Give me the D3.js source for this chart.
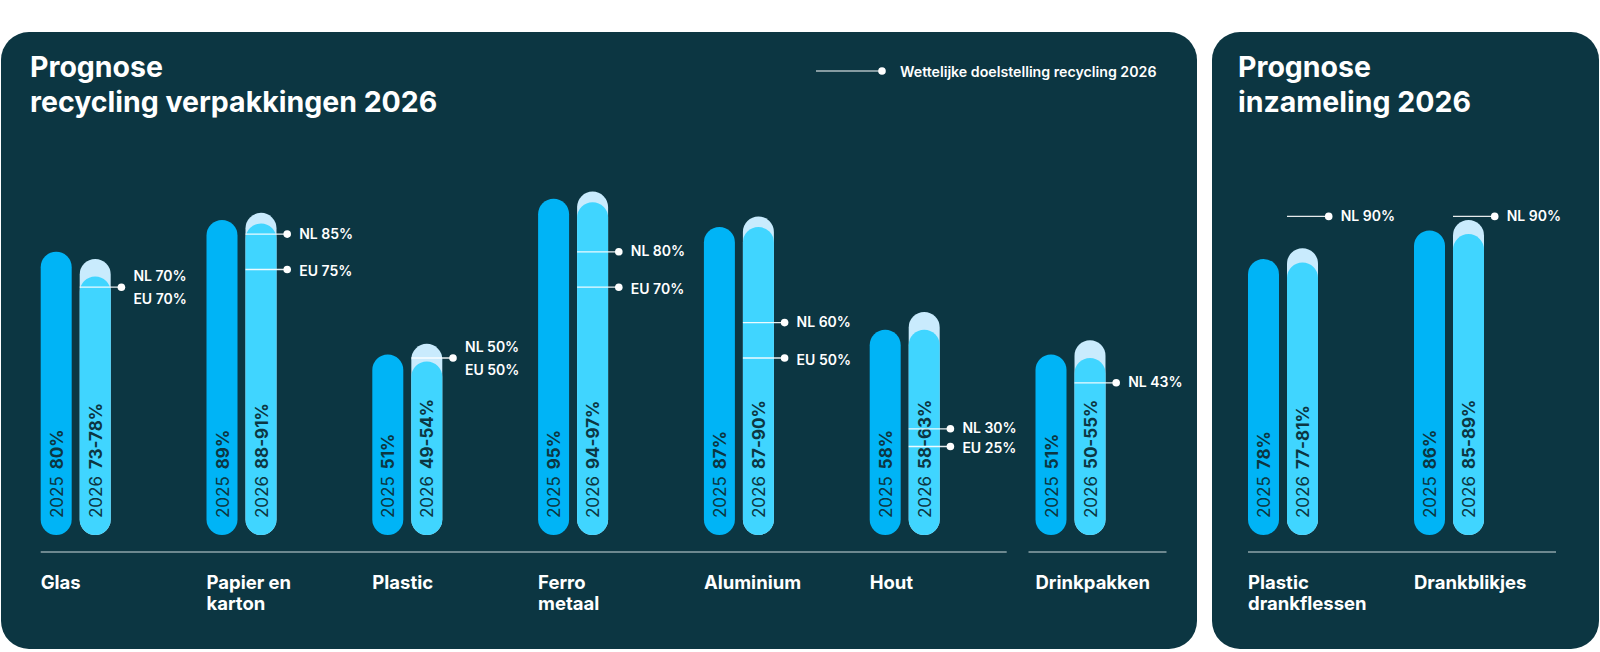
<!DOCTYPE html>
<html>
<head>
<meta charset="utf-8">
<script src="https://cdn.jsdelivr.net/npm/d3@7"></script>
<style>
  html, body { margin: 0; padding: 0; background: #ffffff; }
  svg { display: block; font-family: "Inter", "Noto Sans", sans-serif; }
</style>
</head>
<body>
<div id="chart"></div>
<script>
// recycling verpakkingen
var categories = ["Glas", "Papier en\nkarton", "Plastic", "Ferro\nmetaal", "Aluminium", "Hout", "Drinkpakken"];
var recycling2025 = [80, 89, 51, 95, 87, 58, 51];
var recycling2026Low = [73, 88, 49, 94, 87, 58, 50];
var recycling2026High = [78, 91, 54, 97, 90, 63, 55];
var targetNL = [70, 85, 50, 80, 60, 30, 43];
var targetEU = [70, 75, 50, 70, 50, 25, null];

// inzameling
var collectCategories = ["Plastic\ndrankflessen", "Drankblikjes"];
var collect2025 = [78, 86];
var collect2026Low = [77, 85];
var collect2026High = [81, 89];
var collectNL = [90, 90];

var legendText = "Wettelijke doelstelling recycling 2026";

var W = 1600, H = 652;
var bg = "#0c3642";
var c2025 = "#00b4f6";
var c2026 = "#40d5ff";
var cRange = "#c9ebfd";
var textDark = "#0c3642";

var barW = 31, barGap = 8;
var step = 165.8;

var svg = d3.select("#chart").append("svg")
    .attr("width", W)
    .attr("height", H);

// panels
svg.append("rect")
    .attr("x", 1).attr("y", 32)
    .attr("width", 1196).attr("height", 617)
    .attr("rx", 28)
    .attr("fill", bg);

svg.append("rect")
    .attr("x", 1212).attr("y", 32)
    .attr("width", 387).attr("height", 617)
    .attr("rx", 28)
    .attr("fill", bg);

var y = d3.scaleLinear().domain([0, 100]).range([535, 181]);

var xLeft = d3.scaleBand()
    .domain(categories)
    .range([40.7, 40.7 + step * categories.length])
    .paddingInner(0).paddingOuter(0);

var xRight = d3.scaleBand()
    .domain(collectCategories)
    .range([1248, 1248 + 166 * collectCategories.length])
    .paddingInner(0).paddingOuter(0);

// titles
function title(x, lines) {
    var t = svg.append("text")
        .attr("x", x)
        .attr("y", 77)
        .attr("fill", "#ffffff")
        .attr("font-size", 28.5)
        .attr("font-weight", 700);
    lines.forEach(function (l, i) {
        t.append("tspan")
            .attr("x", x)
            .attr("dy", i == 0 ? 0 : 35)
            .text(l);
    });
}
title(30, ["Prognose", "recycling verpakkingen 2026"]);
title(1238, ["Prognose", "inzameling 2026"]);

// legend
svg.append("line")
    .attr("x1", 816).attr("x2", 882)
    .attr("y1", 71).attr("y2", 71)
    .attr("stroke", "#ffffff").attr("stroke-width", 1.2);
svg.append("circle")
    .attr("cx", 882).attr("cy", 71).attr("r", 3.8)
    .attr("fill", "#ffffff");
svg.append("text")
    .attr("x", 900).attr("y", 71)
    .attr("dominant-baseline", "central")
    .attr("fill", "#ffffff")
    .attr("font-size", 14.2)
    .attr("font-weight", 600)
    .text(legendText);

function pill(g, x, top, color) {
    g.append("rect")
        .attr("x", x)
        .attr("y", top)
        .attr("width", barW)
        .attr("height", y(0) - top)
        .attr("rx", barW / 2)
        .attr("fill", color);
}

function barText(g, x, year, value) {
    var t = g.append("text")
        .attr("transform", "translate(" + (x + barW / 2 + 0.5) + "," + (y(0) - 17) + ") rotate(-90)")
        .attr("dominant-baseline", "central")
        .attr("fill", textDark)
        .attr("font-size", 17);
    t.append("tspan").attr("font-weight", 400).text(year);
    t.append("tspan").attr("font-weight", 700).attr("dx", 7).text(value);
}

function target(g, x, v, labels) {
    var ly = y(v);
    var dotX = x + barW + 10.7;
    g.append("line")
        .attr("x1", x).attr("x2", dotX)
        .attr("y1", ly).attr("y2", ly)
        .attr("stroke", "#ffffff").attr("stroke-width", 1.3)
        .attr("stroke-opacity", 0.9);
    g.append("circle")
        .attr("cx", dotX).attr("cy", ly).attr("r", 3.8)
        .attr("fill", "#ffffff");
    labels.forEach(function (l) {
        g.append("text")
            .attr("x", dotX + 12)
            .attr("y", ly + l.dy)
            .attr("dominant-baseline", "central")
            .attr("fill", "#ffffff")
            .attr("font-size", 14)
            .attr("font-weight", 600)
            .text(l.text);
    });
}

function drawGroup(xScale, cats, v25, lo, hi, nl, eu) {
    cats.forEach(function (c, i) {
        var x0 = xScale(c);
        var x1 = x0 + barW + barGap;
        var g = svg.append("g");

        pill(g, x0, y(v25[i]), c2025);
        pill(g, x1, y(hi[i]), cRange);
        pill(g, x1, y(lo[i]), c2026);

        barText(g, x0, "2025", v25[i] + "%");
        barText(g, x1, "2026", lo[i] + "-" + hi[i] + "%");

        var e = eu ? eu[i] : null;
        if (e != null && e == nl[i]) {
            target(g, x1, nl[i], [{ text: "NL " + nl[i] + "%", dy: -12 }, { text: "EU " + e + "%", dy: 11 }]);
        } else {
            target(g, x1, nl[i], [{ text: "NL " + nl[i] + "%", dy: -1 }]);
            if (e != null) {
                target(g, x1, e, [{ text: "EU " + e + "%", dy: 1 }]);
            }
        }

        // category label
        var t = svg.append("text")
            .attr("x", x0)
            .attr("y", 589)
            .attr("fill", "#ffffff")
            .attr("font-size", 18.5)
            .attr("font-weight", 700);
        c.split("\n").forEach(function (l, j) {
            t.append("tspan")
                .attr("x", x0)
                .attr("dy", j == 0 ? 0 : 21)
                .text(l);
        });
    });
}

drawGroup(xLeft, categories, recycling2025, recycling2026Low, recycling2026High, targetNL, targetEU);
drawGroup(xRight, collectCategories, collect2025, collect2026Low, collect2026High, collectNL, null);

// separators
function sep(x1, x2) {
    svg.append("line")
        .attr("x1", x1).attr("x2", x2)
        .attr("y1", 552).attr("y2", 552)
        .attr("stroke", "#8ea4aa").attr("stroke-width", 1.5);
}
sep(xLeft(categories[0]), xLeft(categories[5]) + 137);
sep(xLeft(categories[6]) - 7, xLeft(categories[6]) + 131);
sep(xRight(collectCategories[0]), xRight(collectCategories[1]) + 142);
</script>
</body>
</html>
